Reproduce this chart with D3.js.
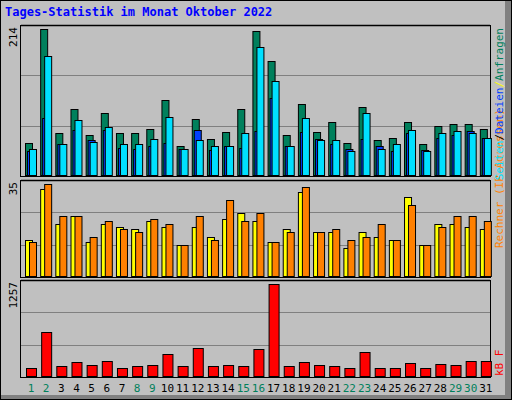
<!DOCTYPE html><html><head><meta charset="utf-8">
<script src="https://cdn.jsdelivr.net/npm/d3@7"></script>
<style>body{margin:0}svg{display:block}text{font-family:"DejaVu Sans Mono",monospace}</style></head><body>
<script>
const days=d3.range(1,32);
const weekend=[1,2,8,9,15,16,22,23,29,30];
const anfragen=[48,214,62,97,60,92,62,62,69,111,43,83,54,64,97,211,167,59,105,64,78,48,101,53,56,78,46,73,75,75,69];
const dateien=[37,85,47,67,53,67,41,40,44,48,40,67,38,44,41,66,113,43,64,54,47,40,54,43,37,63,38,56,60,65,56];
const seiten=[40,174,46,81,50,72,46,47,54,86,40,53,43,43,62,188,139,44,85,53,53,37,91,40,47,67,37,62,65,63,56];
const besuche=[14,33,20,23,13,20,19,18,21,19,12,19,15,22,24,21,13,18,32,17,17,11,17,15,14,30,12,20,20,19,18];
const rechner=[13,35,23,23,15,21,18,17,22,20,12,23,14,29,21,24,13,17,34,17,18,14,15,20,14,27,12,19,23,23,21];
const kbf=[115,610,142,197,156,211,128,142,156,307,142,390,142,156,142,376,1257,142,197,156,142,128,335,128,128,184,115,170,156,211,211];
const maxLabels=["214","35","1257"];

const svg=d3.select("body").append("svg").attr("width",512).attr("height",400);
svg.append("rect").attr("width",512).attr("height",400).attr("fill","#808080");
svg.append("rect").attr("x",0).attr("y",0).attr("width",505).attr("height",395).attr("fill","#C0C0C0");
svg.append("rect").attr("x",0.5).attr("y",0.5).attr("width",511).attr("height",399).attr("fill","none").attr("stroke","#000");
svg.append("text").attr("x",5).attr("y",16).attr("fill","#0000ff").attr("font-weight","bold").attr("font-size",12).text("Tages-Statistik im Monat Oktober 2022");

const x=d3.scaleBand().domain(days).range([20,490]).paddingInner(0);
const L=20,R=490;
function panel(y0,y1,max,label){
  svg.append("rect").attr("x",L+0.5).attr("y",y0+0.5).attr("width",R-L).attr("height",y1-y0).attr("fill","#C0C0C0").attr("stroke","#000");
  svg.append("line").attr("x1",L+1).attr("x2",R).attr("y1",y0+0.5).attr("y2",y0+0.5).attr("stroke","#000").attr("stroke-width",1.5);
  const y=d3.scaleLinear().domain([0,max]).range([y1,y0+4]);
  const h=(y1-y0);
  [1,2].forEach(k=>svg.append("line").attr("x1",L+1).attr("x2",R).attr("y1",Math.round(y1-h*k/3)+0.5).attr("y2",Math.round(y1-h*k/3)+0.5).attr("stroke","#808080"));
  svg.append("text").attr("transform",`translate(17,${y0+2}) rotate(-90)`).attr("text-anchor","end").attr("font-size",11).attr("fill","#000").text(label);
  return y;
}
function bars(data,y,dx,w,color){
  svg.append("g").selectAll("rect").data(data).join("rect")
   .attr("x",(d,i)=>x(days[i])+dx+0.5).attr("y",d=>Math.round(y(d))+0.5)
   .attr("width",w).attr("height",d=>y(0)-Math.round(y(d))-1).attr("fill",color).attr("stroke","#000");
}
const y1=panel(25,176,214,maxLabels[0]);
bars(anfragen,y1,5,7,"#00805C");
bars(dateien,y1,7,7,"#0040FF");
bars(seiten,y1,9,7,"#00E0FF");
const y2=panel(180,277,35,maxLabels[1]);
bars(besuche,y2,5,7,"#FFFF00");
bars(rechner,y2,9,7,"#FF8000");
const y3=panel(280,377,1257,maxLabels[2]);
bars(kbf,y3,6,10,"#FF0000");

svg.append("g").selectAll("text").data(days).join("text")
 .attr("x",d=>x(d)+11).attr("y",392).attr("text-anchor","middle").attr("font-size",11)
 .attr("fill",d=>weekend.includes(d)?"#00805C":"#000").text(d=>d);

// right labels
svg.append("text").attr("transform","translate(503,248) rotate(-90)").attr("font-size",11).attr("fill","#FF8000").text("Rechner (IP-Adressen)");
const t=svg.append("text").attr("transform","translate(503,28) rotate(-90)").attr("text-anchor","end").attr("font-size",11);
t.append("tspan").attr("fill","#00E0FF").text("Seiten");
t.append("tspan").attr("fill","#000").text("/");
t.append("tspan").attr("fill","#0040FF").text("Dateien");
t.append("tspan").attr("fill","#FFFF00").text("/");
t.append("tspan").attr("fill","#00805C").text("Anfragen");
svg.append("text").attr("transform","translate(503,376) rotate(-90)").attr("font-size",11).attr("fill","#FF0000").text("kB F");
</script></body></html>
